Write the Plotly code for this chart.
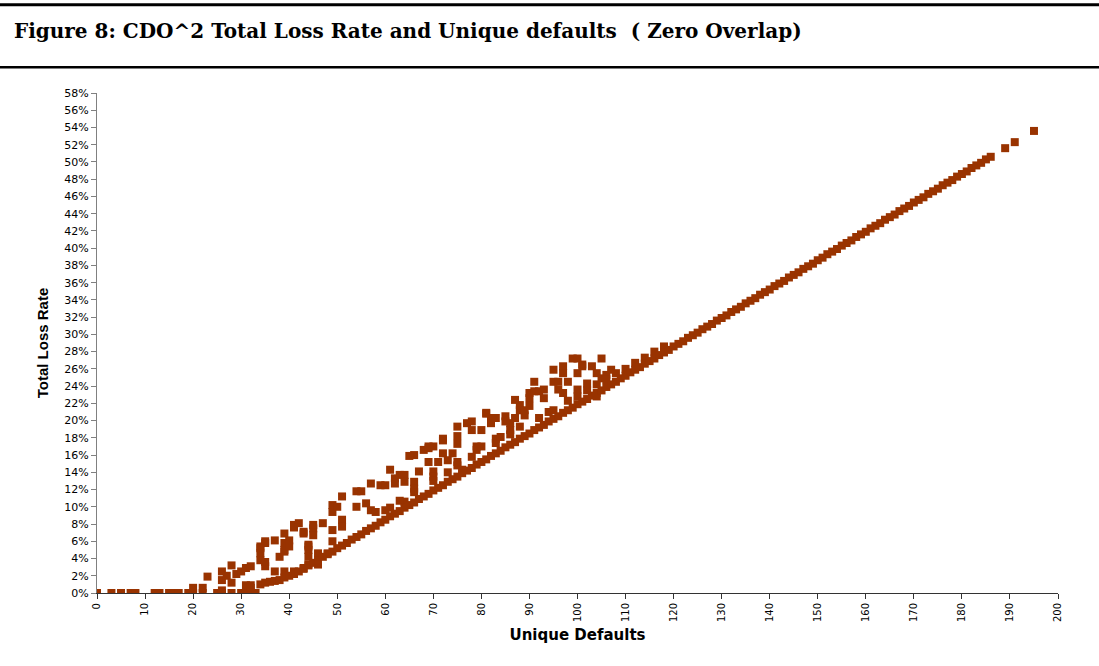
import plotly.graph_objects as go

# ---- data (Unique Defaults, Total Loss Rate in %) ----
low_x = [0, 3, 5, 7, 8, 12, 13, 15, 16, 17, 19, 20, 20, 22, 22, 23, 25, 26, 26, 28, 30, 31, 32, 33]
low_y = [0, 0, 0, 0, 0, 0, 0, 0, 0, 0, 0, 0, 0.6, 0, 0.6, 1.9, 0, 0, 0.3, 0, 0, 0, 0, 0]

floor_x = list(range(34, 187))
floor_y = [1.0, 1.2, 1.3, 1.4, 1.5, 1.8, 2.0, 2.2, 2.5, 2.8, 3.2, 3.5, 3.8, 4.2, 4.5, 4.8,
           5.2, 5.5, 5.8, 6.2, 6.5, 6.8, 7.2, 7.5, 7.8, 8.2, 8.5, 8.9, 9.2, 9.5, 9.9, 10.2,
           10.5, 10.9, 11.2, 11.5, 11.9, 12.2, 12.5, 12.9, 13.2, 13.5, 13.9, 14.2, 14.5, 14.9,
           15.2, 15.5, 15.9, 16.2, 16.5, 16.9, 17.2, 17.5, 17.9, 18.2, 18.5, 18.9, 19.2, 19.5,
           19.9, 20.2, 20.5, 20.9, 21.2, 21.5, 21.9, 22.2, 22.5, 22.9, 23.2, 23.5, 23.9, 24.2,
           24.5, 24.9, 25.2, 25.6, 25.9, 26.2, 26.6, 26.9, 27.2, 27.6, 27.9, 28.2, 28.6, 28.9,
           29.2, 29.6, 29.9, 30.2, 30.6, 30.9, 31.2, 31.6, 31.9, 32.2, 32.6, 32.9, 33.2, 33.6,
           33.9, 34.2, 34.6, 34.9, 35.2, 35.6, 35.9, 36.2, 36.6, 36.9, 37.2, 37.6, 37.9, 38.2,
           38.6, 38.9, 39.3, 39.6, 39.9, 40.3, 40.6, 40.9, 41.3, 41.6, 41.9, 42.3, 42.6, 42.9,
           43.3, 43.6, 43.9, 44.3, 44.6, 44.9, 45.3, 45.6, 45.9, 46.3, 46.6, 46.9, 47.3, 47.6,
           47.9, 48.3, 48.6, 48.9, 49.3, 49.6, 49.9, 50.3, 50.6]

tail_x = [189, 191, 195]
tail_y = [51.6, 52.3, 53.6]

cloud_x = [26, 26, 27, 28, 28, 29, 30, 31, 32, 32, 31, 32,
           34, 34, 34, 35, 35, 35, 34, 35, 37, 37, 38, 39, 39, 39, 39, 39,
           40, 40, 41, 41, 41, 42, 43, 43, 43, 44, 44, 44, 44, 44, 45, 45, 45,
           46, 46, 47, 48, 49, 49, 49, 49, 50, 51, 51, 51, 54, 55, 54, 56, 57,
           57, 58, 59, 60, 61, 61, 62, 62, 63, 64, 64, 64, 66, 66, 65, 67, 66,
           68, 69, 69, 69, 70, 70, 71, 70, 72, 72, 73, 72, 74, 75, 75, 75, 75,
           75, 76, 77, 78, 78, 79, 79, 80, 80, 81, 81, 82, 82, 83, 83, 84, 85,
           85, 86, 86, 87, 87, 88, 88, 88, 89, 89, 90, 90, 90, 91, 91, 92, 93,
           93, 95, 95, 95, 96, 96, 97, 97, 97, 98, 99, 100, 100, 100, 101, 101,
           102, 103, 104, 104, 105, 105, 107, 106]
cloud_y = [2.5, 1.5, 2.0, 3.2, 1.2, 2.2, 2.5, 2.9, 3.1, 0.9, 0.9, 0.6,
           5.4, 4.6, 3.8, 3.1, 5.8, 6.0, 5.2, 3.6, 6.1, 2.5, 4.2, 6.9, 5.8, 4.8, 2.5, 5.0,
           6.1, 5.4, 2.5, 7.9, 7.6, 8.1, 7.1, 2.9, 6.9, 5.6, 5.0, 3.3, 5.4, 4.2, 7.5, 7.9, 6.7,
           4.6, 3.3, 8.1, 4.6, 10.2, 9.4, 7.3, 6.0, 10.0, 11.2, 8.5, 7.7, 11.8, 11.8, 10.0, 10.4, 12.7,
           9.6, 9.4, 12.5, 12.5, 14.3, 9.9, 12.7, 13.3, 13.7, 13.7, 10.6, 12.9, 16.0, 12.9, 15.9, 14.1, 12.1,
           16.6, 16.8, 17.0, 15.2, 14.1, 17.0, 15.2, 13.5, 17.9, 16.2, 15.4, 17.7, 16.2, 19.3, 18.2, 17.3, 15.2,
           14.8, 14.3, 19.7, 19.9, 18.9, 17.0, 16.6, 18.9, 17.0, 20.8, 20.9, 20.3, 19.7, 17.9, 20.3, 18.1, 20.5,
           19.9, 19.7, 18.9, 20.3, 22.4, 21.2, 19.3, 21.8, 21.2, 20.6, 22.6, 21.7, 23.2, 24.5, 23.4, 23.4, 23.6,
           22.6, 25.9, 24.5, 21.2, 23.6, 24.5, 26.3, 25.5, 23.2, 24.5, 27.2, 27.2, 25.5, 23.6, 26.5, 26.3,
           24.3, 26.3, 25.5, 22.8, 27.2, 24.9, 25.9, 25.3]

band_x = [60, 63, 66, 70, 73, 78, 83, 86, 92, 94, 98, 100, 102, 104, 106, 108, 110, 112, 114, 116, 118]
band_y = [9.6, 10.7, 11.7, 13.0, 14.0, 15.8, 17.4, 18.4, 20.3, 21.0, 22.3, 22.8, 23.5, 24.2, 24.8,
          25.5, 26.0, 26.7, 27.3, 28.0, 28.6]

x_all = low_x + cloud_x + band_x + floor_x + tail_x
y_all = low_y + cloud_y + band_y + floor_y + tail_y

fig = go.Figure()
fig.add_trace(go.Scatter(
    x=x_all, y=y_all, mode="markers",
    marker=dict(symbol="square", size=8, color="#993300", line=dict(width=0)),
    showlegend=False, hoverinfo="x+y"))

sans = "DejaVu Sans, Arial, sans-serif"
fig.update_layout(
    width=1099, height=666,
    margin=dict(l=97, r=41, t=93, b=73),
    paper_bgcolor="white", plot_bgcolor="white",
    xaxis=dict(range=[0, 200], dtick=10, tick0=0, tickangle=-90,
               showgrid=False, zeroline=False, showline=True, linecolor="#333333", linewidth=1,
               ticks="outside", ticklen=5, tickcolor="#333333",
               tickfont=dict(family=sans, size=10, color="#000"),
               title=dict(text="<b>Unique Defaults</b>", standoff=8,
                          font=dict(family=sans, size=15, color="#000"))),
    yaxis=dict(range=[0, 58], dtick=2, tick0=0, ticksuffix="%",
               showgrid=False, zeroline=False, showline=True, linecolor="#808080", linewidth=1,
               ticks="outside", ticklen=5, tickcolor="#808080",
               tickfont=dict(family=sans, size=11, color="#000"),
               title=dict(text="<b>Total Loss Rate</b>", standoff=12,
                          font=dict(family="Liberation Sans, Arial, sans-serif", size=15, color="#000"))),
)

# header rules and title
fig.add_shape(type="line", xref="paper", yref="paper",
              x0=-97/961, x1=(1099-97)/961, y0=(593-4.7)/500, y1=(593-4.7)/500,
              line=dict(color="black", width=3))
fig.add_shape(type="line", xref="paper", yref="paper",
              x0=-97/961, x1=(1099-97)/961, y0=(593-67.3)/500, y1=(593-67.3)/500,
              line=dict(color="black", width=2.5))
fig.add_annotation(xref="paper", yref="paper", x=(12-97)/961, y=(593-31)/500,
                   xanchor="left", yanchor="middle", showarrow=False,
                   text="<b>Figure 8: CDO^2 Total Loss Rate and Unique defaults  ( Zero Overlap)</b>",
                   font=dict(family="DejaVu Serif, Liberation Serif, serif", size=20, color="black"))

fig.write_html("out.html", config={"displayModeBar": False},
               post_script="document.body.style.margin='0px';")
